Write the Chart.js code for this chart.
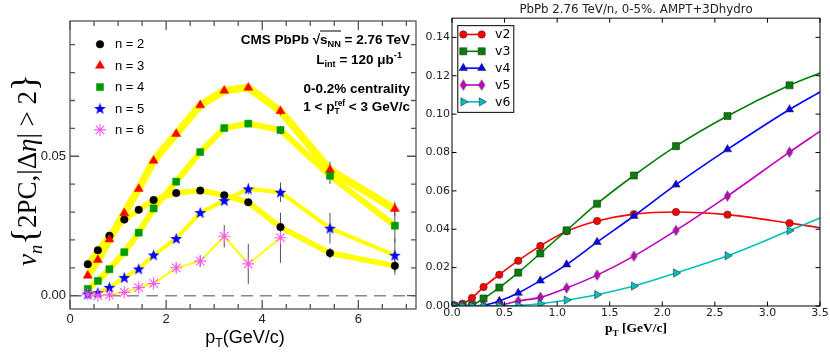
<!DOCTYPE html>
<html>
<head>
<meta charset="utf-8">
<script src="https://cdn.jsdelivr.net/npm/chart.js@4.4.1/dist/chart.umd.min.js"></script>
<style>
  body { margin: 0; width: 830px; height: 353px; position: relative; background: #fff; overflow: hidden; }
  canvas { position: absolute; top: 0; }
  #cmsChart { left: 0; }
  #amptChart { left: 425px; }
  .txt { position: absolute; white-space: nowrap; color: #000; line-height: 1; }
  sub, sup { font-size: 0.68em; line-height: 0; }
  .ann { right: 420px; font: bold 13.5px 'Liberation Sans', sans-serif; transform: translateY(-50%); }
  .stack { display: inline-flex; flex-direction: column; font-size: 0.62em; line-height: 0.95; vertical-align: 0.6em; }
</style>
</head>
<body>
<canvas id="cmsChart" width="425" height="353"></canvas>
<canvas id="amptChart" width="405" height="353"></canvas>

<div class="txt" style="left:25px; top:170px; transform:translate(-50%,-50%) rotate(-90deg); font:27px 'Liberation Serif', serif;">
  <i>v</i><sub><i>n</i></sub><span style="font-size:1.3em">{</span>2PC,|&Delta;<i>&eta;</i>| &gt; 2<span style="font-size:1.3em">}</span>
</div>
<div class="txt" style="left:245px; top:337px; transform:translate(-50%,-50%); font:18px 'Liberation Sans', sans-serif;">p<sub>T</sub>(GeV/c)</div>

<div class="txt ann" style="top:38.5px;">CMS PbPb &radic;<span style="border-top:1.5px solid #000;">s<sub>NN</sub></span> = 2.76 TeV</div>
<div class="txt ann" style="top:58.5px; right:428px;">L<sub>int</sub> = 120 &mu;b<sup>-1</sup></div>
<div class="txt ann" style="top:87.5px;">0-0.2% centrality</div>
<div class="txt ann" style="top:107px;">1 &lt; p<span class="stack"><span>ref</span><span>T</span></span> &lt; 3 GeV/c</div>

<div class="txt" style="left:636px; top:328px; transform:translate(-50%,-50%); font:bold 13.5px 'Liberation Serif', serif;">p<sub>T</sub> [GeV/c]</div>

<script>
// ---- CMS data: v_n{2PC, |deta|>2} vs pT, 0-0.2% centrality ----
const cmsPt = [0.37, 0.58, 0.82, 1.13, 1.43, 1.74, 2.21, 2.71, 3.21, 3.71, 4.38, 5.41, 6.76];
const cmsN2 = [0.0113, 0.0163, 0.0215, 0.0273, 0.0308, 0.0343, 0.0368, 0.0377, 0.0360, 0.0335, 0.0246, 0.0153, 0.0107];
const cmsN3 = [0.0072, 0.0128, 0.0202, 0.0296, 0.0383, 0.0484, 0.0580, 0.0683, 0.0735, 0.0746, 0.0662, 0.0451, 0.0311];
const cmsN4 = [0.0024, 0.0053, 0.0095, 0.0156, 0.0226, 0.0313, 0.0409, 0.0515, 0.0601, 0.0617, 0.0594, 0.0430, 0.0251];
const cmsN5 = [0.0006, 0.0011, 0.0030, 0.0065, 0.0096, 0.0146, 0.0205, 0.0298, 0.0341, 0.0383, 0.0371, 0.0242, 0.0145];
const cmsN6 = [0.0005, 0.0000, 0.0003, 0.0012, 0.0029, 0.0044, 0.0100, 0.0124, 0.0213, 0.0114, 0.0208];
// statistical errors
const cmsN2Err = [0.0004, 0.0004, 0.0004, 0.0004, 0.0004, 0.0004, 0.0005, 0.0006, 0.0008, 0.0012, 0.0050, 0.0019, 0.0032];
const cmsN3Err = [0.0004, 0.0004, 0.0004, 0.0004, 0.0004, 0.0004, 0.0005, 0.0006, 0.0008, 0.0010, 0.0015, 0.0030, 0.0026];
const cmsN4Err = [0.0004, 0.0004, 0.0004, 0.0004, 0.0004, 0.0004, 0.0005, 0.0006, 0.0008, 0.0010, 0.0015, 0.0030, 0.0060];
const cmsN5Err = [0.0004, 0.0004, 0.0004, 0.0004, 0.0004, 0.0005, 0.0006, 0.0008, 0.0012, 0.0020, 0.0035, 0.0055, 0.0060];
const cmsN6Err = [0.0005, 0.0005, 0.0005, 0.0006, 0.0008, 0.0010, 0.0015, 0.0020, 0.0040, 0.0072, 0.0090];
const cmsXTicks = [0, 2, 4, 6];
const cmsYTicks = [0, 0.05];

// ---- AMPT + 3D hydro, PbPb 2.76 TeV, 0-5% ----
const amptPt = [0.02, 0.1, 0.19, 0.3, 0.45, 0.63, 0.84, 1.09, 1.38, 1.73, 2.13, 2.62, 3.21, 3.5];
const amptV2 = [0.0003, 0.0012, 0.0042, 0.0099, 0.0163, 0.0236, 0.0313, 0.0389, 0.0443, 0.0479, 0.0490, 0.0476, 0.0432, 0.0408];
const amptV3 = [0.0001, 0.0002, 0.0006, 0.0039, 0.0096, 0.0174, 0.0274, 0.0394, 0.0533, 0.0680, 0.0833, 0.0990, 0.1150, 0.1214];
const amptV4 = [0.0000, 0.0000, 0.0001, 0.0004, 0.0026, 0.0068, 0.0132, 0.0216, 0.0333, 0.0469, 0.0632, 0.0816, 0.1024, 0.1115];
const amptV5 = [0.0000, 0.0000, 0.0000, 0.0001, 0.0004, 0.0026, 0.0045, 0.0094, 0.0161, 0.0260, 0.0394, 0.0573, 0.0802, 0.0910];
const amptV6 = [0.0000, 0.0000, 0.0000, 0.0000, 0.0001, 0.0003, 0.0012, 0.0031, 0.0059, 0.0104, 0.0172, 0.0262, 0.0393, 0.0458];
const amptXTicks = [0, 0.5, 1, 1.5, 2, 2.5, 3, 3.5];
const amptYTicks = [0, 0.02, 0.04, 0.06, 0.08, 0.10, 0.12, 0.14];

const toPts = (xs, ys) => ys.map((y, i) => ({ x: xs[i], y: y }));

function starImage(color, r) {
  const c = document.createElement('canvas');
  const s = Math.ceil(r * 2 + 2);
  c.width = s; c.height = s;
  const g = c.getContext('2d');
  g.beginPath();
  for (let i = 0; i < 10; i++) {
    const rad = i % 2 ? r * 0.42 : r;
    const a = -Math.PI / 2 + i * Math.PI / 5;
    g.lineTo(s / 2 + rad * Math.cos(a), s / 2 + 0.5 + rad * Math.sin(a));
  }
  g.closePath();
  g.fillStyle = color;
  g.fill();
  return c;
}

function thinDiamond(color, w, h) {
  const c = document.createElement('canvas');
  c.width = Math.ceil(w * 2 + 2); c.height = Math.ceil(h * 2 + 2);
  const g = c.getContext('2d');
  const cx = c.width / 2, cy = c.height / 2;
  g.beginPath();
  g.moveTo(cx, cy - h); g.lineTo(cx + w, cy); g.lineTo(cx, cy + h); g.lineTo(cx - w, cy);
  g.closePath();
  g.fillStyle = color; g.fill();
  g.strokeStyle = '#444'; g.lineWidth = 0.6; g.stroke();
  return c;
}

// inward ticks + frame
const frameTicks = {
  id: 'frameTicks',
  afterDraw(chart, args, o) {
    const { ctx, chartArea: a } = chart;
    const sx = chart.scales.x, sy = chart.scales.y;
    const isMajor = (v, step) => Math.abs(v / step - Math.round(v / step)) < 1e-6;
    ctx.save();
    ctx.strokeStyle = o.color;
    ctx.lineWidth = o.width;
    ctx.beginPath();
    for (let i = Math.ceil(sx.min / o.xMinor - 1e-6); i * o.xMinor <= sx.max + 1e-9; i++) {
      const v = i * o.xMinor;
      const len = isMajor(v, o.xMajor) ? o.majorLen : o.minorLen;
      const px = sx.getPixelForValue(v);
      ctx.moveTo(px, a.bottom); ctx.lineTo(px, a.bottom - len);
      ctx.moveTo(px, a.top); ctx.lineTo(px, a.top + len);
    }
    for (let i = Math.ceil(sy.min / o.yMinor - 1e-6); i * o.yMinor <= sy.max + 1e-9; i++) {
      const v = i * o.yMinor;
      const len = isMajor(v, o.yMajor) ? o.majorLen : o.minorLen;
      const py = sy.getPixelForValue(v);
      ctx.moveTo(a.left, py); ctx.lineTo(a.left + len, py);
      ctx.moveTo(a.right, py); ctx.lineTo(a.right - len, py);
    }
    ctx.stroke();
    ctx.strokeRect(a.left, a.top, a.right - a.left, a.bottom - a.top);
    ctx.restore();
  }
};

const zeroLine = {
  id: 'zeroLine',
  beforeDatasetsDraw(chart, args, o) {
    const { ctx, chartArea: a } = chart;
    const py = chart.scales.y.getPixelForValue(0);
    ctx.save();
    ctx.strokeStyle = o.color;
    ctx.lineWidth = o.width;
    ctx.setLineDash(o.dash);
    ctx.beginPath();
    ctx.moveTo(a.left, py); ctx.lineTo(a.right, py);
    ctx.stroke();
    ctx.restore();
  }
};

let errorsDone = false;
const errorBars = {
  id: 'errorBars',
  beforeDatasetsDraw() { errorsDone = false; },
  beforeDatasetDraw(chart, args, o) {
    if (errorsDone || !chart.data.datasets[args.index].errors) return;
    errorsDone = true;
    const { ctx } = chart;
    const sx = chart.scales.x, sy = chart.scales.y;
    ctx.save();
    ctx.strokeStyle = o.color;
    ctx.lineWidth = o.width;
    ctx.beginPath();
    chart.data.datasets.forEach(ds => {
      if (!ds.errors) return;
      ds.data.forEach((p, i) => {
        const px = sx.getPixelForValue(p.x);
        ctx.moveTo(px, sy.getPixelForValue(p.y - ds.errors[i]));
        ctx.lineTo(px, sy.getPixelForValue(p.y + ds.errors[i]));
      });
    });
    ctx.stroke();
    ctx.restore();
  }
};

// legend drawn inside the plot area
const innerLegend = {
  id: 'innerLegend',
  afterDraw(chart, args, o) {
    const { ctx, chartArea: a } = chart;
    const items = chart.data.datasets.filter(d => d.label);
    ctx.save();
    if (o.box) {
      ctx.fillStyle = '#fff';
      ctx.strokeStyle = '#000';
      ctx.lineWidth = 1;
      ctx.fillRect(a.left + o.box[0], a.top + o.box[1], o.box[2], o.box[3]);
      ctx.strokeRect(a.left + o.box[0] + 0.5, a.top + o.box[1] + 0.5, o.box[2], o.box[3]);
    }
    items.forEach((d, i) => {
      const y = a.top + o.y0 + i * o.dy;
      if (o.lineFrom !== undefined) {
        ctx.strokeStyle = d.borderColor;
        ctx.lineWidth = d.borderWidth;
        ctx.beginPath();
        ctx.moveTo(a.left + o.lineFrom, y); ctx.lineTo(a.left + o.lineTo, y);
        ctx.stroke();
      }
      const xs = o.lineFrom !== undefined ? [o.lineFrom, o.lineTo] : [o.markerX];
      xs.forEach(mx => {
        ctx.fillStyle = d.pointBackgroundColor;
        ctx.strokeStyle = d.pointBorderColor;
        ctx.lineWidth = d.pointBorderWidth;
        Chart.helpers.drawPoint(ctx, {
          pointStyle: d.pointStyle, radius: d.markerSize,
          rotation: d.pointRotation || 0, borderWidth: d.pointBorderWidth
        }, a.left + mx, y);
      });
      ctx.fillStyle = '#000';
      ctx.font = o.font;
      ctx.textBaseline = 'middle';
      ctx.textAlign = 'left';
      ctx.fillText(d.label, a.left + o.textX, y + 0.5);
    });
    ctx.restore();
  }
};

// ---------------- left panel: CMS ----------------
const cmsSeries = [
  { label: 'n = 2', ys: cmsN2, err: cmsN2Err, color: '#000000', style: 'circle', r: 3.8, band: 5.5, order: 5 },
  { label: 'n = 3', ys: cmsN3, err: cmsN3Err, color: '#ff0000', style: 'triangle', r: 5.2, band: 7.5, order: 4 },
  { label: 'n = 4', ys: cmsN4, err: cmsN4Err, color: '#009900', style: 'rect', r: 5, band: 6, order: 3 },
  { label: 'n = 5', ys: cmsN5, err: cmsN5Err, color: '#0000ff', style: starImage('#0000ff', 6.2), r: 6, band: 4, order: 2 },
  { label: 'n = 6', ys: cmsN6, err: cmsN6Err, color: '#ff55ff', style: 'star', r: 6, band: 2, order: 1 }
];

const cmsDatasets = [];
cmsSeries.forEach(s => {
  cmsDatasets.push({
    data: toPts(cmsPt, s.ys), borderColor: '#ffff00', borderWidth: s.band,
    pointRadius: 0, fill: false, tension: 0, order: 10
  });
});
cmsSeries.forEach(s => {
  cmsDatasets.push({
    label: s.label, data: toPts(cmsPt, s.ys), errors: s.err, showLine: false,
    pointStyle: s.style, pointRadius: s.r, markerSize: s.r, pointBackgroundColor: s.color,
    pointBorderColor: s.color, pointBorderWidth: s.style === 'star' ? 1.1 : 0.5,
    borderColor: s.color, order: s.order
  });
});

new Chart(document.getElementById('cmsChart'), {
  type: 'line',
  data: { datasets: cmsDatasets },
  options: {
    responsive: false,
    animation: false,
    events: [],
    layout: { padding: { top: 21, right: 9, left: 0, bottom: 0 } },
    plugins: {
      legend: { display: false },
      tooltip: { enabled: false },
      frameTicks: { color: '#555', width: 1.3, xMinor: 0.5, xMajor: 2, yMinor: 0.01, yMajor: 0.05, majorLen: 9, minorLen: 5 },
      zeroLine: { color: '#888', width: 1.5, dash: [12, 7] },
      errorBars: { color: '#555', width: 1 },
      innerLegend: { markerX: 30, textX: 45, y0: 23.3, dy: 21.4, font: "13px 'Liberation Sans'" }
    },
    scales: {
      x: {
        type: 'linear', min: 0, max: 7.2,
        grid: { display: false, drawTicks: false }, border: { display: false },
        afterBuildTicks: s => { s.ticks = cmsXTicks.map(v => ({ value: v })); },
        afterFit: s => { s.height = 44; },
        ticks: { autoSkip: false, maxRotation: 0, padding: 3, color: '#222',
                 font: { family: 'Liberation Sans', size: 13 }, callback: v => String(v) }
      },
      y: {
        type: 'linear', min: -0.00477, max: 0.0985,
        grid: { display: false, drawTicks: false }, border: { display: false },
        afterBuildTicks: s => { s.ticks = cmsYTicks.map(v => ({ value: v })); },
        afterFit: s => { s.width = 70; },
        ticks: { autoSkip: false, padding: 4, color: '#222',
                 font: { family: 'Liberation Sans', size: 13 }, callback: v => v.toFixed(2) }
      }
    }
  },
  plugins: [frameTicks, zeroLine, errorBars, innerLegend]
});

// ---------------- right panel: AMPT + 3D hydro ----------------
const amptSeries = [
  { label: 'v2', ys: amptV2, color: '#ff0000', style: 'circle', r: 3.7, rot: 0, order: 5 },
  { label: 'v3', ys: amptV3, color: '#008000', style: 'rect', r: 5, rot: 0, order: 4 },
  { label: 'v4', ys: amptV4, color: '#0000ff', style: 'triangle', r: 4.8, rot: 0, order: 3 },
  { label: 'v5', ys: amptV5, color: '#bf00bf', style: thinDiamond('#bf00bf', 3.2, 5.2), r: 5, rot: 0, order: 2 },
  { label: 'v6', ys: amptV6, color: '#00bfbf', style: 'triangle', r: 4.8, rot: 90, order: 1 }
];

new Chart(document.getElementById('amptChart'), {
  type: 'line',
  data: {
    datasets: amptSeries.map(s => ({
      label: s.label, data: toPts(amptPt, s.ys),
      borderColor: s.color, borderWidth: 1.6, fill: false,
      cubicInterpolationMode: 'monotone',
      pointStyle: s.style, pointRotation: s.rot, markerSize: s.r,
      pointRadius: ctx => (ctx.raw && ctx.raw.x >= 3.5 ? 0 : s.r),
      pointBackgroundColor: s.color, pointBorderColor: '#333', pointBorderWidth: 0.6,
      order: s.order
    }))
  },
  options: {
    responsive: false,
    animation: false,
    events: [],
    layout: { padding: { top: 0, right: 10, left: 0, bottom: 0 } },
    plugins: {
      legend: { display: false },
      tooltip: { enabled: false },
      title: {
        display: true, fullSize: false,
        text: 'PbPb 2.76 TeV/n, 0-5%. AMPT+3Dhydro',
        color: '#222', font: { family: 'DejaVu Sans', size: 11.8, weight: 'normal' },
        padding: { top: 3, bottom: 1 }
      },
      frameTicks: { color: '#000', width: 1, xMinor: 0.5, xMajor: 0.5, yMinor: 0.02, yMajor: 0.02, majorLen: 4.5, minorLen: 4.5 },
      innerLegend: {
        box: [5.3, 7, 56, 86.7], lineFrom: 11.3, lineTo: 29.7, textX: 43,
        y0: 16.3, dy: 16.85, font: "12.5px 'DejaVu Sans'"
      }
    },
    scales: {
      x: {
        type: 'linear', min: 0, max: 3.5,
        grid: { display: false, drawTicks: false }, border: { display: false },
        afterBuildTicks: s => { s.ticks = amptXTicks.map(v => ({ value: v })); },
        afterFit: s => { s.height = 47; },
        ticks: { autoSkip: false, maxRotation: 0, padding: 1, color: '#222',
                 font: { family: 'DejaVu Sans', size: 11 }, callback: v => v.toFixed(1) }
      },
      y: {
        type: 'linear', min: 0, max: 0.15,
        grid: { display: false, drawTicks: false }, border: { display: false },
        afterBuildTicks: s => { s.ticks = amptYTicks.map(v => ({ value: v })); },
        afterFit: s => { s.width = 27; },
        ticks: { autoSkip: false, padding: 2, color: '#222',
                 font: { family: 'DejaVu Sans', size: 11 }, callback: v => v.toFixed(2) }
      }
    }
  },
  plugins: [frameTicks, innerLegend]
});
</script>
</body>
</html>
